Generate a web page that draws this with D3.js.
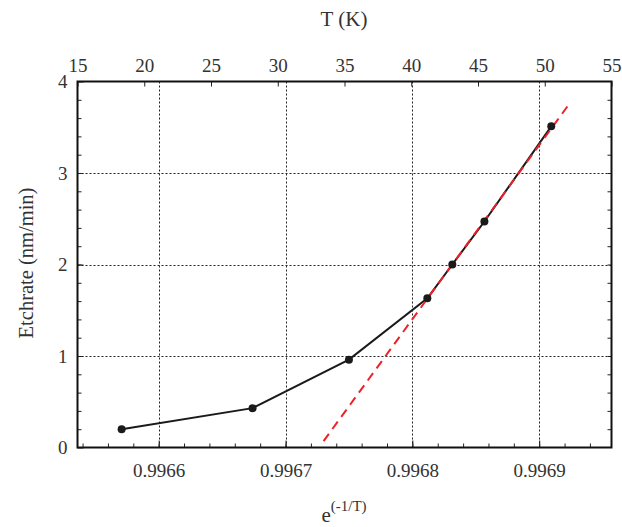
<!DOCTYPE html>
<html>
<head>
<meta charset="utf-8">
<script src="https://cdn.jsdelivr.net/npm/d3@7"></script>
<style>
	body { margin: 0; background: #fff; }
	text { font-family: "Liberation Serif", "DejaVu Serif", serif; fill: #333; }
</style>
</head>
<body>
<svg id="chart" width="622" height="527"></svg>
<script>
// measured points, e^(-1/T) vs etch rate
var expT = [0.9965708, 0.996674, 0.99675, 0.9968118, 0.9968315, 0.9968568, 0.9969095];
var etch = [0.20, 0.43, 0.96, 1.63, 2.00, 2.47, 3.51];

// linear fit (red dashed), end points
var fitX = [0.99673, 0.996925];
var fitY = [0.07, 3.78];

var xTicks = [0.9966, 0.9967, 0.9968, 0.9969];
var tTicks = [15, 20, 25, 30, 35, 40, 45, 50, 55];
var yTicks = [0, 1, 2, 3, 4];

var W = 622, H = 527;
var pLeft = 77.5, pRight = 611.5, pTop = 81.5, pBottom = 447.5;
var svg = d3.select("#chart");

var x = d3.scaleLinear().domain([0.996536, 0.996957]).range([pLeft, pRight]);
var xTop = d3.scaleLinear().domain([15, 55]).range([pLeft, pRight]);
var y = d3.scaleLinear().domain([0, 4]).range([pBottom, pTop]);

// grid
svg.append("g").selectAll("line").data(xTicks).enter().append("line")
	.attr("x1", d => Math.round(x(d)) + 0.5).attr("x2", d => Math.round(x(d)) + 0.5)
	.attr("y1", pTop).attr("y2", pBottom)
	.attr("stroke", "#222").attr("stroke-width", 1).attr("stroke-dasharray", "2,2");
svg.append("g").selectAll("line").data([1, 2, 3]).enter().append("line")
	.attr("x1", pLeft).attr("x2", pRight)
	.attr("y1", d => Math.round(y(d)) + 0.5).attr("y2", d => Math.round(y(d)) + 0.5)
	.attr("stroke", "#222").attr("stroke-width", 1).attr("stroke-dasharray", "2,2");

// minor ticks
var xMinor = d3.range(0.99654, 0.99696, 0.00002);
var yMinor = d3.range(0.2, 4, 0.2);

function styleAxis(g) {
	g.select(".domain").remove();
	g.selectAll("line").attr("stroke", "#222");
	g.selectAll("text").attr("font-size", 19).attr("fill", "#333")
		.attr("font-family", '"Liberation Serif", "DejaVu Serif", serif');
}

svg.append("g").attr("transform", "translate(0," + pBottom + ")")
	.call(d3.axisBottom(x).tickValues(xMinor).tickSize(-4).tickFormat(""))
	.call(styleAxis);
svg.append("g").attr("transform", "translate(0," + pBottom + ")")
	.call(d3.axisBottom(x).tickValues(xTicks).tickSize(-7).tickPadding(16).tickFormat(d3.format(".4f")))
	.call(styleAxis);

svg.append("g").attr("transform", "translate(0," + pTop + ")")
	.call(d3.axisTop(xTop).tickValues(tTicks).tickSize(-5).tickPadding(10).tickFormat(d3.format("d")))
	.call(styleAxis);

svg.append("g").attr("transform", "translate(" + pLeft + ",0)")
	.call(d3.axisLeft(y).tickValues(yMinor).tickSize(-4).tickFormat(""))
	.call(styleAxis);
svg.append("g").attr("transform", "translate(" + pLeft + ",0)")
	.call(d3.axisLeft(y).tickValues(yTicks).tickSize(-6).tickPadding(10).tickFormat(d3.format("d")))
	.call(styleAxis);
svg.append("g").attr("transform", "translate(" + pRight + ",0)")
	.call(d3.axisRight(y).tickValues(yMinor).tickSize(-4).tickFormat(""))
	.call(styleAxis);

// frame
svg.append("rect")
	.attr("x", pLeft).attr("y", pTop)
	.attr("width", pRight - pLeft).attr("height", pBottom - pTop)
	.attr("fill", "none").attr("stroke", "#111").attr("stroke-width", 2);

// data line + points
var pts = expT.map((d, i) => [d, etch[i]]);
svg.append("path")
	.attr("d", d3.line().x(d => x(d[0])).y(d => y(d[1]))(pts))
	.attr("fill", "none").attr("stroke", "#1a1a1a").attr("stroke-width", 2);

// fit line
svg.append("path")
	.attr("d", d3.line().x(d => x(d[0])).y(d => y(d[1]))(fitX.map((d, i) => [d, fitY[i]])))
	.attr("fill", "none").attr("stroke", "#ee2028").attr("stroke-width", 2)
	.attr("stroke-dasharray", "9,6");

svg.append("g").selectAll("circle").data(pts).enter().append("circle")
	.attr("cx", d => x(d[0])).attr("cy", d => y(d[1])).attr("r", 4)
	.attr("fill", "#1a1a1a");

// labels
svg.append("text")
	.attr("x", 344).attr("y", 26)
	.attr("text-anchor", "middle").attr("font-size", 21)
	.text("T (K)");

var xl = svg.append("text")
	.attr("x", 344).attr("y", 522)
	.attr("text-anchor", "middle").attr("font-size", 21);
xl.append("tspan").text("e");
xl.append("tspan").attr("dy", -11).attr("font-size", 15).text("(-1/T)");

svg.append("text")
	.attr("transform", "translate(33,263) rotate(-90)")
	.attr("text-anchor", "middle").attr("font-size", 20.5)
	.text("Etchrate (nm/min)");
</script>
</body>
</html>
